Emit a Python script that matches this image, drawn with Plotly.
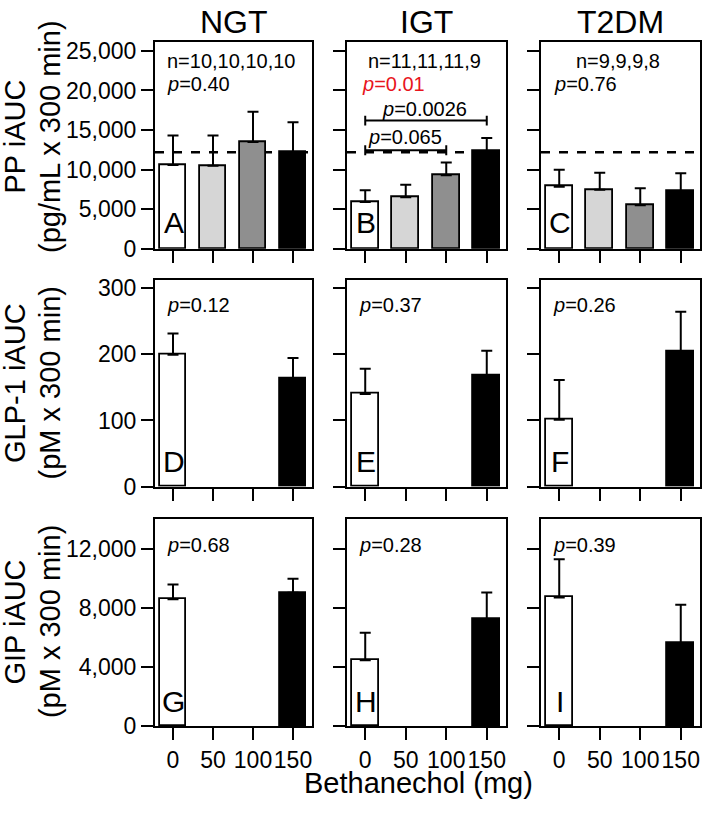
import plotly.graph_objects as go

# ---------------- data ----------------
doses = [0, 50, 100, 150]
dose_labels = ["0", "50", "100", "150"]
hormone_doses = [0, 150]
groups = ["NGT", "IGT", "T2DM"]

pp_ngt = [10600, 10500, 13500, 12200]
pp_ngt_err = [3700, 3800, 3800, 3800]
pp_igt = [5900, 6500, 9300, 12300]
pp_igt_err = [1500, 1600, 1600, 1700]
pp_t2dm = [7850, 7450, 5500, 7300]
pp_t2dm_err = [2150, 2150, 2150, 2250]
pp_reference = 12200

glp_ngt = [199, 163]
glp_ngt_err = [32, 31]
glp_igt = [140, 168]
glp_igt_err = [38, 37]
glp_t2dm = [101, 204]
glp_t2dm_err = [60, 60]

gip_ngt = [8580, 9020]
gip_ngt_err = [990, 950]
gip_igt = [4450, 7210]
gip_igt_err = [1860, 1830]
gip_t2dm = [8690, 5620]
gip_t2dm_err = [2600, 2580]

n_labels = ["n=10,10,10,10", "n=11,11,11,9", "n=9,9,9,8"]
pp_p = ["0.40", "0.01", "0.76"]
glp_p = ["0.12", "0.37", "0.26"]
gip_p = ["0.68", "0.28", "0.39"]
panel_letters = ["A", "B", "C", "D", "E", "F", "G", "H", "I"]
bracket_p = ["0.0026", "0.065"]

row_ticks = [[0, 5000, 10000, 15000, 20000, 25000], [0, 100, 200, 300], [0, 4000, 8000, 12000]]
row_ranges = [[0, 26100], [0, 311], [0, 14000]]
row_titles = [("PP iAUC", "(pg/mL x 300 min)"), ("GLP-1 iAUC", "(pM x 300 min)"), ("GIP iAUC", "(pM x 300 min)")]

dose_colors = ["white", "#d6d6d6", "#8f8f8f", "black"]
hormone_colors = ["white", "black"]

# ---------------- layout geometry ----------------
W, H = 703, 817
col_px = [(155, 312), (347, 506), (541, 700)]
row_px = [(38, 249.3), (281.7, 492.7), (525.7, 737.3)]
FONT = "Liberation Sans, Arial, Helvetica, sans-serif"

fig = go.Figure()

pp_data = [(pp_ngt, pp_ngt_err), (pp_igt, pp_igt_err), (pp_t2dm, pp_t2dm_err)]
glp_data = [(glp_ngt, glp_ngt_err), (glp_igt, glp_igt_err), (glp_t2dm, glp_t2dm_err)]
gip_data = [(gip_ngt, gip_ngt_err), (gip_igt, gip_igt_err), (gip_t2dm, gip_t2dm_err)]
rows = [(doses, dose_colors, pp_data), (hormone_doses, hormone_colors, glp_data), (hormone_doses, hormone_colors, gip_data)]

annotations = []
shapes = []

for r, (xs, cols, data) in enumerate(rows):
    for c in range(3):
        idx = r * 3 + c + 1
        xa = "x" if idx == 1 else f"x{idx}"
        ya = "y" if idx == 1 else f"y{idx}"
        vals, errs = data[c]
        fig.add_trace(go.Bar(
            x=xs, y=vals, width=33.3,
            marker=dict(color=cols, line=dict(color="black", width=1.8)),
            error_y=dict(type="data", array=errs, arrayminus=[0] * len(errs), symmetric=False,
                         color="black", thickness=2, width=5.5),
            xaxis=xa, yaxis=ya, showlegend=False, hoverinfo="skip",
        ))
        x0, x1 = col_px[c]
        y0, y1 = row_px[r]
        xkey = "xaxis" if idx == 1 else f"xaxis{idx}"
        ykey = "yaxis" if idx == 1 else f"yaxis{idx}"
        fig.update_layout(**{
            xkey: dict(domain=[x0 / W, x1 / W], anchor=ya, range=[-22.5, 173.75],
                       tickvals=doses, ticktext=dose_labels if r == 2 else [""] * 4,
                       tickangle=0,
                       showline=True, mirror=True, linecolor="black", linewidth=2,
                       ticks="outside", ticklen=12, tickwidth=2, tickcolor="black",
                       showgrid=False, zeroline=False,
                       tickfont=dict(family=FONT, size=23, color="black"), fixedrange=True),
            ykey: dict(domain=[1 - y1 / H, 1 - y0 / H], anchor=xa, range=row_ranges[r],
                       tickvals=row_ticks[r], tickformat=",",
                       showticklabels=(c == 0),
                       showline=True, mirror=True, linecolor="black", linewidth=2,
                       ticks="outside", ticklen=12, tickwidth=2, tickcolor="black",
                       showgrid=False, zeroline=False,
                       tickfont=dict(family=FONT, size=23, color="black"), fixedrange=True),
        })
        # panel letter
        annotations.append(dict(text=panel_letters[idx - 1], xref=f"{xa} domain", yref=f"{ya} domain",
                                x=0.121, y=[0.129, 0.122, 0.117][r], xanchor="center", yanchor="middle",
                                showarrow=False, font=dict(family=FONT, size=30, color="black")))

# row 1 texts
for c in range(3):
    xa = "x" if c == 0 else f"x{c + 1}"
    ya = "y" if c == 0 else f"y{c + 1}"
    annotations.append(dict(text=n_labels[c], xref=f"{xa} domain", yref=f"{ya} domain",
                            x=[0.487, 0.49, 0.484][c], y=0.907, xanchor="center", yanchor="middle",
                            showarrow=False, font=dict(family=FONT, size=20, color="black")))
    color = "#e8141c" if c == 1 else "black"
    annotations.append(dict(text=f"<i>p</i>={pp_p[c]}", xref=f"{xa} domain", yref=f"{ya} domain",
                            x=[0.066, 0.08, 0.068][c], y=0.797, xanchor="left", yanchor="middle",
                            showarrow=False, font=dict(family=FONT, size=20, color=color)))
    shapes.append(dict(type="line", xref=f"{xa} domain", yref=ya, x0=0, x1=1,
                       y0=pp_reference, y1=pp_reference, layer="below",
                       line=dict(color="black", width=2.5, dash="dash")))

for r, plist in [(1, glp_p), (2, gip_p)]:
    for c in range(3):
        idx = r * 3 + c + 1
        annotations.append(dict(text=f"<i>p</i>={plist[c]}", xref=f"x{idx} domain", yref=f"y{idx} domain",
                                x=0.066, y=[0, 0.881, 0.877][r], xanchor="left", yanchor="middle",
                                showarrow=False, font=dict(family=FONT, size=20, color="black")))

# IGT brackets
for (xe, yb, ty, tx, txt) in [(150, 16200, 17700, 73.75, bracket_p[0]), (100, 12450, 14100, 48.75, bracket_p[1])]:
    shapes.append(dict(type="line", xref="x2", yref="y2", x0=0, x1=xe, y0=yb, y1=yb,
                       line=dict(color="black", width=2)))
    for xx in (0, xe):
        shapes.append(dict(type="line", xref="x2", yref="y2", x0=xx, x1=xx, y0=yb - 620, y1=yb + 620,
                           line=dict(color="black", width=2)))
    annotations.append(dict(text=f"<i>p</i>={txt}", xref="x2", yref="y2", x=tx, y=ty,
                            xanchor="center", yanchor="middle", showarrow=False,
                            font=dict(family=FONT, size=20, color="black")))

# column titles
for c, g in enumerate(groups):
    x0, x1 = col_px[c]
    annotations.append(dict(text=g, xref="paper", yref="paper", x=(x0 + x1) / 2 / W, y=1 - 17 / H,
                            xanchor="center", yanchor="middle", showarrow=False,
                            font=dict(family=FONT, size=32, color="black")))

# y titles
row_centers = [135, 387, 631]
for r, (l1, l2) in enumerate(row_titles):
    yc = 1 - row_centers[r] / H
    annotations.append(dict(text=l1, xref="paper", yref="paper", x=15.5 / W, y=yc, textangle=-90,
                            xanchor="center", yanchor="middle", showarrow=False,
                            font=dict(family=FONT, size=29, color="black")))
    annotations.append(dict(text=l2, xref="paper", yref="paper", x=50 / W, y=yc, textangle=-90,
                            xanchor="center", yanchor="middle", showarrow=False,
                            font=dict(family=FONT, size=29, color="black")))

# x title
annotations.append(dict(text="Bethanechol (mg)", xref="paper", yref="paper", x=418.5 / W, y=1 - 796 / H,
                        xanchor="center", yanchor="middle", showarrow=False,
                        font=dict(family=FONT, size=29, color="black")))

fig.update_layout(width=W, height=H, margin=dict(l=0, r=0, t=0, b=0),
                  paper_bgcolor="white", plot_bgcolor="white", bargap=0,
                  annotations=annotations, shapes=shapes,
                  font=dict(family=FONT, color="black"))

fig.write_html("out.html", config={"displayModeBar": False},
               post_script="document.body.style.margin='0';document.body.style.overflow='hidden';")
